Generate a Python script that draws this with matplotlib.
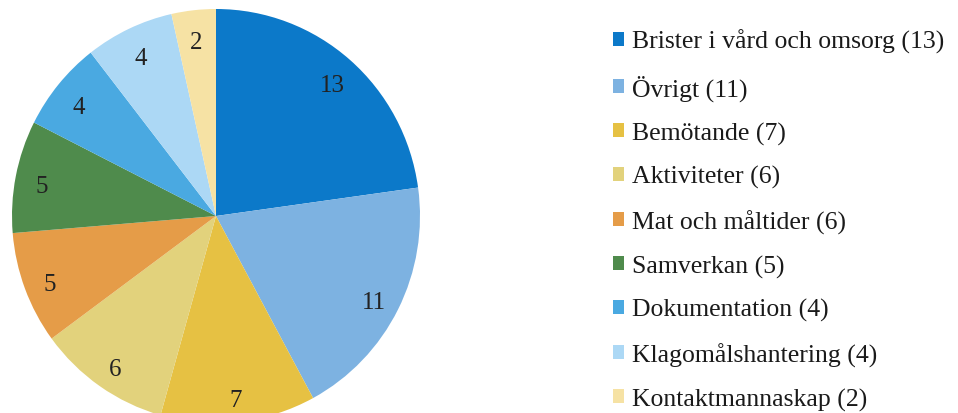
import matplotlib
matplotlib.use('Agg')
import matplotlib.pyplot as plt
from matplotlib.patches import Patch
from matplotlib.transforms import ScaledTranslation

plt.rcParams['font.family'] = ['Liberation Serif', 'DejaVu Serif']

# Kategorier och antal klagomål
kategorier = ['Brister i vård och omsorg', 'Övrigt', 'Bemötande', 'Aktiviteter',
              'Mat och måltider', 'Samverkan', 'Dokumentation', 'Klagomålshantering',
              'Kontaktmannaskap']
legend_antal = [13, 11, 7, 6, 6, 5, 4, 4, 2]
tarta_antal = [13, 11, 7, 6, 5, 5, 4, 4, 2]
farger = ['#0c79c9', '#7db2e1', '#e6c143', '#e2d27c', '#e59c48',
          '#4f8b4c', '#4aa9e1', '#acd8f5', '#f6e2a4']

total = sum(tarta_antal)

fig = plt.figure(figsize=(9.58, 4.14), dpi=100)

# tårtan sitter till vänster och skärs av något i nederkant
rx, ry = 204, 207
cx, cy = 216, 414 - 217
ax = fig.add_axes([(cx - rx) / 958, (cy - ry) / 414, 2 * rx / 958, 2 * ry / 414])
wedges, texts, autotexts = ax.pie(
    tarta_antal, colors=farger, startangle=90, counterclock=False, radius=1,
    autopct=lambda p: f'{round(p * total / 100)}', pctdistance=0.87,
    textprops={'fontsize': 18, 'color': '#222222'})
ax.set_aspect('auto')
ax.set_xlim(-1, 1)
ax.set_ylim(-1, 1)
ax.axis('off')

# etiketterna lite lägre
flytt = ScaledTranslation(0, -5 / 100, fig.dpi_scale_trans)
for t in autotexts:
    t.set_transform(t.get_transform() + flytt)

# förklaring med antal inom parentes
handles = [Patch(facecolor=c, edgecolor='none') for c in farger]
etiketter = [f'{k} ({n})' for k, n in zip(kategorier, legend_antal)]
fig.legend(handles, etiketter, loc='upper left', bbox_to_anchor=(613 / 958, 1 - 30 / 414),
           frameon=False, fontsize=18.5, handlelength=0.43, handleheight=0.43,
           handletextpad=0.3, labelspacing=0.81, borderpad=0, borderaxespad=0,
           labelcolor='#1a1a1a')

fig.savefig('out.png', dpi=100)
